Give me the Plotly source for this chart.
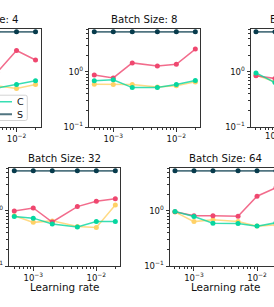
import plotly.graph_objects as go

# ---------------- data ----------------
lr = [5e-4, 1e-3, 2e-3, 5e-3, 1e-2, 2e-2]
batch_sizes = [4, 8, 16, 32, 64]
series_names = ["A", "B", "C", "S"]

a_bs4 = [0.62, 0.60, 0.58, 0.56, 0.50, 0.59]
b_bs4 = [0.85, 0.80, 0.95, 1.00, 2.45, 1.65]
c_bs4 = [0.70, 0.68, 0.60, 0.51, 0.59, 0.69]
s_bs4 = [5.35, 5.35, 5.35, 5.35, 5.35, 5.35]

a_bs8 = [0.60, 0.59, 0.59, 0.53, 0.56, 0.66]
b_bs8 = [0.88, 0.78, 1.46, 1.28, 1.38, 2.60]
c_bs8 = [0.69, 0.72, 0.52, 0.52, 0.59, 0.70]
s_bs8 = [5.35, 5.35, 5.35, 5.35, 5.35, 5.35]

a_bs16 = [0.88, 0.66, 0.62, 0.58, 0.60, 0.70]
b_bs16 = [0.85, 0.76, 0.80, 1.00, 1.50, 2.00]
c_bs16 = [0.96, 0.64, 0.58, 0.55, 0.60, 0.66]
s_bs16 = [5.35, 5.35, 5.35, 5.35, 5.35, 5.35]

a_bs32 = [0.82, 0.62, 0.66, 0.52, 0.50, 1.28]
b_bs32 = [1.00, 1.13, 0.63, 1.20, 1.50, 1.67]
c_bs32 = [0.79, 0.74, 0.58, 0.51, 0.64, 0.64]
s_bs32 = [5.35, 5.35, 5.35, 5.35, 5.35, 5.35]

a_bs64 = [0.96, 0.64, 0.69, 0.64, 0.53, 0.56]
b_bs64 = [0.97, 0.82, 0.82, 0.80, 1.85, 2.65]
c_bs64 = [0.98, 0.79, 0.60, 0.59, 0.53, 0.61]
s_bs64 = [5.35, 5.35, 5.35, 5.35, 5.35, 5.35]

x_tick_vals = [1e-3, 1e-2]
x_tick_text = ["10<sup>\u22123</sup>", "10<sup>\u22122</sup>"]
y_tick_vals = [0.1, 1]
y_tick_text = ["10<sup>\u22121</sup>", "10<sup>0</sup>"]
x_minor = [m * 10.0 ** e for e in (-4, -3, -2) for m in range(2, 10)]
y_minor = [m * 10.0 ** e for e in (-1, 0) for m in range(2, 10)]

# ---------------- style / layout ----------------
W, H = 274, 307
FONT = "DejaVu Sans"
AX = "#333333"
colors = ["#FFD166", "#EF476F", "#06D6A0", "#073B4C"]
line_alpha = ["rgba(255,209,102,0.8)", "rgba(239,71,111,0.8)",
              "rgba(6,214,160,0.8)", "rgba(7,59,76,0.7)"]
line_w = [1.5, 1.5, 1.5, 1.9]

FULL_RANGE = (-3.38, -1.62)
PANEL_W = 111
panels = [
    dict(bs=4, data=(a_bs4, b_bs4, c_bs4, s_bs4), left=-70.5, top=29),
    dict(bs=8, data=(a_bs8, b_bs8, c_bs8, s_bs8), left=89.3, top=29),
    dict(bs=16, data=(a_bs16, b_bs16, c_bs16, s_bs16), left=251, top=29),
    dict(bs=32, data=(a_bs32, b_bs32, c_bs32, s_bs32), left=9.3, top=168),
    dict(bs=64, data=(a_bs64, b_bs64, c_bs64, s_bs64), left=170, top=168),
]
PANEL_H = 98

fig = go.Figure()
layout = dict(
    width=W, height=H, margin=dict(l=0, r=0, t=0, b=0, autoexpand=False),
    paper_bgcolor="white", plot_bgcolor="white",
    font=dict(family=FONT, color="#111111"),
    annotations=[], shapes=[],
)

per_px = (FULL_RANGE[1] - FULL_RANGE[0]) / PANEL_W
for i, p in enumerate(panels):
    n = "" if i == 0 else str(i + 1)
    L, R = p["left"], p["left"] + PANEL_W
    vl, vr = max(L, 0), min(R, W)
    r0 = FULL_RANGE[0] + (vl - L) * per_px
    r1 = FULL_RANGE[0] + (vr - L) * per_px
    top, bot = p["top"], p["top"] + PANEL_H
    cut_left = L < 0
    cut_right = R > W

    xa = dict(
        type="log", range=[r0, r1], domain=[vl / W, vr / W], anchor="y" + n,
        showline=True, linecolor=AX, linewidth=1, mirror=True,
        ticks="outside", ticklen=3.5, tickwidth=0.8, tickcolor=AX,
        tickvals=x_tick_vals, ticktext=x_tick_text,
        tickfont=dict(size=8.5, family=FONT, color="#111"),
        minor=dict(tickvals=x_minor, ticks="outside", ticklen=2, tickwidth=0.6, tickcolor=AX),
        showgrid=False, zeroline=False,
    )
    ya = dict(
        type="log", range=[-1, 0.78], domain=[1 - bot / H, 1 - top / H], anchor="x" + n,
        showline=True, linecolor=AX, linewidth=1, mirror=not (cut_left or cut_right),
        ticks="outside", ticklen=3.5, tickwidth=0.8, tickcolor=AX,
        tickvals=y_tick_vals, ticktext=y_tick_text,
        tickfont=dict(size=8.5, family=FONT, color="#111"),
        minor=dict(tickvals=y_minor, ticks="outside", ticklen=2, tickwidth=0.6, tickcolor=AX),
        showgrid=False, zeroline=False,
    )
    if cut_left:
        ya.update(side="right", ticks="", showticklabels=False,
                  minor=dict(ticks=""))
    layout["xaxis" + n] = xa
    layout["yaxis" + n] = ya

    for k, vals in enumerate(p["data"]):
        tr = dict(
            x=lr, y=vals, mode="lines+markers", name=series_names[k],
            xaxis="x" + n, yaxis="y" + n,
            line=dict(color=line_alpha[k], width=line_w[k]),
            marker=dict(color=colors[k], size=5),
            showlegend=False,
        )
        if i == 0 and k == 2:
            tr.update(showlegend=True, legend="legend")
        if i == 0 and k == 3:
            tr.update(showlegend=True, legend="legend2")
        fig.add_trace(go.Scatter(**tr))

    # panel title
    layout["annotations"].append(dict(
        text="Batch Size: %d" % p["bs"], x=(L + R) / 2 / W, y=1 - (top - 9.5) / H,
        xref="paper", yref="paper", showarrow=False, xanchor="center", yanchor="middle",
        font=dict(size=10.2, family=FONT, color="#111"),
    ))
    if p["bs"] in (32, 64):
        layout["annotations"].append(dict(
            text="Learning rate", x=(L + R) / 2 / W, y=1 - 287 / H,
            xref="paper", yref="paper", showarrow=False, xanchor="center", yanchor="middle",
            font=dict(size=10.4, family=FONT, color="#111"),
        ))

# partially visible tick label of the Batch Size 16 panel
layout["annotations"].append(dict(
    text=x_tick_text[0], x=(251 + 24) / W, y=1 - 127 / H,
    xref="paper", yref="paper", showarrow=False, xanchor="center", yanchor="top",
    font=dict(size=8.5, family=FONT, color="#111"),
))

# legend box (Batch Size 4 panel, right column of a 2-column legend)
bx0, bx1, by0, by1, rr = -5, 27.3, 95.2, 120.5, 2
def P(x, y):
    return "%.4f,%.4f" % (x / W, 1 - y / H)
layout["shapes"].append(dict(
    type="path", xref="paper", yref="paper", layer="above",
    path="M%s L%s Q%s %s L%s Q%s %s L%s Z" % (
        P(bx0, by0), P(bx1 - rr, by0), P(bx1, by0), P(bx1, by0 + rr),
        P(bx1, by1 - rr), P(bx1, by1), P(bx1 - rr, by1), P(bx0, by1)),
    line=dict(color="#d4d4d4", width=1), fillcolor="rgba(255,255,255,0.8)",
))
leg_common = dict(x=-33 / W, xanchor="left", yanchor="middle", bgcolor="rgba(0,0,0,0)",
                  borderwidth=0, font=dict(size=9.5, family=FONT, color="#111"),
                  itemwidth=40, tracegroupgap=0)
layout["legend"] = dict(y=1 - 101.7 / H, **leg_common)
layout["legend2"] = dict(y=1 - 114.3 / H, **leg_common)

fig.update_layout(**layout)
fig.write_html("out.html", config={"displayModeBar": False},
               post_script="document.body.style.margin='0';document.body.style.overflow='hidden';")
